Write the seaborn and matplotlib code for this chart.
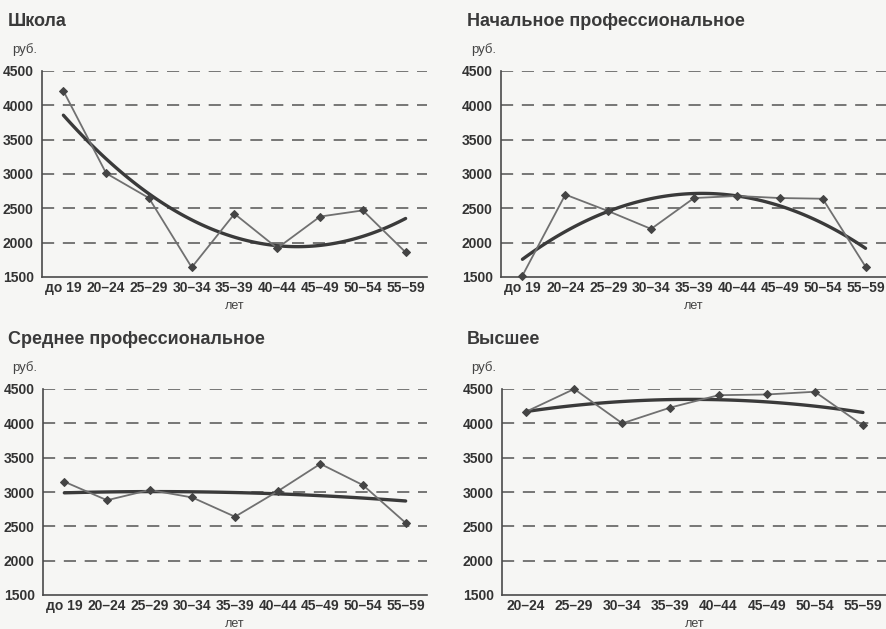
import numpy as np
import pandas as pd
import seaborn as sns
import matplotlib.pyplot as plt

# возрастные группы
ages_9 = ['до 19', '20–24', '25–29', '30–34', '35–39', '40–44', '45–49', '50–54', '55–59']
ages_8 = ['20–24', '25–29', '30–34', '35–39', '40–44', '45–49', '50–54', '55–59']

# средняя зарплата, руб.
school = [4210, 3010, 2650, 1640, 2420, 1920, 2380, 2470, 1860]
initial_prof = [1520, 2700, 2460, 2200, 2650, 2680, 2650, 2640, 1650]
secondary_prof = [3150, 2880, 3030, 2920, 2640, 3010, 3410, 3100, 2550]
higher = [4170, 4500, 4000, 4230, 4410, 4420, 4460, 3970]

sns.set_style("white")
plt.rcParams['font.family'] = ['Liberation Sans Narrow', 'Liberation Sans', 'DejaVu Sans']

bg = '#f6f6f4'
dark = '#4a4a4a'
fig = plt.figure(figsize=(8.87, 6.29), dpi=100, facecolor=bg)

W, H = 887, 629
panels = [
    ('Школа', ages_9, school, 42, 427, 71, 277, 8),
    ('Начальное профессиональное', ages_9, initial_prof, 501, 887, 71, 277, 467),
    ('Среднее профессиональное', ages_9, secondary_prof, 43, 427, 389, 595, 8),
    ('Высшее', ages_8, higher, 502, 887, 389, 595, 467),
]

for title, cats, vals, x0, x1, ytop, ybot, tx in panels:
    ax = fig.add_axes([x0 / W, 1 - ybot / H, (x1 - x0) / W, (ybot - ytop) / H])
    ax.set_facecolor(bg)
    df = pd.DataFrame({'pos': np.arange(len(cats)), 'val': vals})

    # линия тренда (полином 2-й степени)
    sns.regplot(data=df, x='pos', y='val', order=2, ci=None, scatter=False,
                ax=ax, line_kws={'color': '#3a3a3a', 'lw': 2.4})
    # фактические значения
    sns.lineplot(data=df, x='pos', y='val', ax=ax, color='#707070', lw=1.3,
                 marker='D', markersize=4.5, markerfacecolor='#444444',
                 markeredgecolor='#444444', clip_on=False, zorder=3)

    ax.set_xlim(-0.5, len(cats) - 0.5)
    ax.set_ylim(1500, 4500)
    ax.set_yticks(range(1500, 5000, 500))
    ax.set_xticks(np.arange(len(cats)))
    ax.set_xticklabels(cats)
    ax.set_xticks(np.arange(0.5, len(cats) - 0.5), minor=True)
    ax.set_xlabel('')
    ax.set_ylabel('')

    for y in range(2000, 5000, 500):
        ax.axhline(y, color='#666666', lw=1.25, ls=(0, (7, 5)), zorder=0)

    for s in ['top', 'right']:
        ax.spines[s].set_visible(False)
    for s in ['left', 'bottom']:
        ax.spines[s].set_color(dark)
        ax.spines[s].set_linewidth(1.2)

    ax.tick_params(axis='y', which='major', direction='inout', length=6,
                   width=1, color=dark, labelsize=10, labelcolor='#333333', pad=3)
    ax.tick_params(axis='x', which='major', length=0, labelsize=10,
                   labelcolor='#333333', pad=3)
    ax.tick_params(axis='x', which='minor', direction='out', length=3,
                   width=1, color='#777777')
    for lab in ax.get_xticklabels() + ax.get_yticklabels():
        lab.set_fontweight('bold')

    fig.text(tx / W, 1 - (ytop - 50) / H, title, fontsize=13, fontweight='bold',
             color='#3a3a3a', va='center', ha='left', family=['Liberation Sans', 'DejaVu Sans'])
    fig.text((tx + 4) / W, 1 - (ytop - 21) / H, 'руб.', fontsize=9.5,
             color='#444444', va='center', ha='left')
    fig.text((x0 + x1) / 2 / W, 1 - (ybot + 29) / H, 'лет', fontsize=9,
             color='#444444', va='center', ha='center')

fig.savefig('out.png', dpi=100, facecolor=bg)
